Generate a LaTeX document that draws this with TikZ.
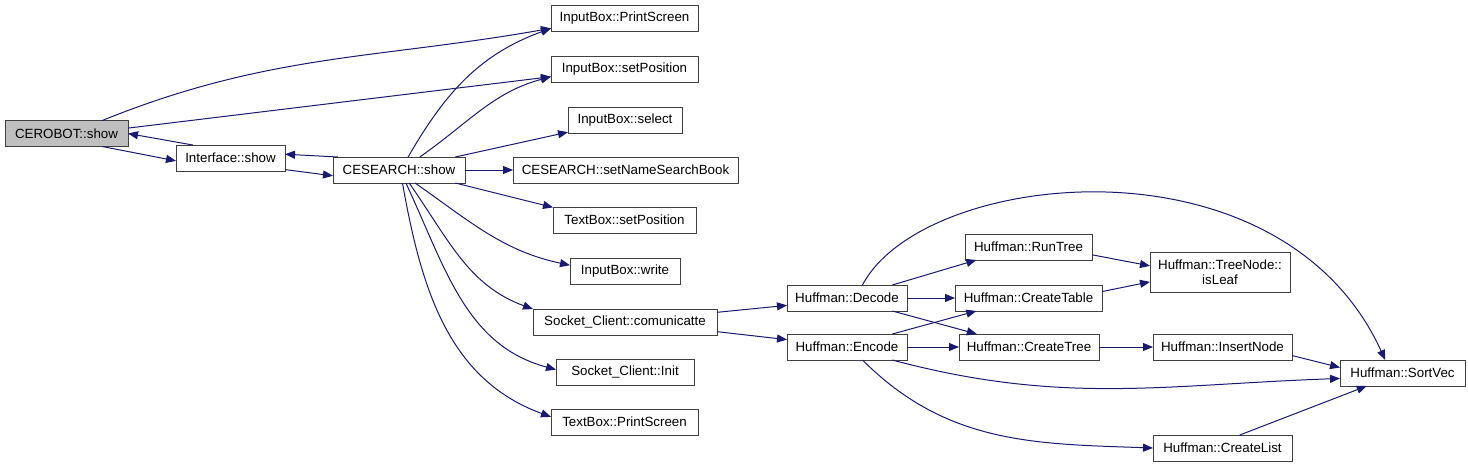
\documentclass[tikz,border=0pt]{standalone}
\usepackage{fontspec}
\setmainfont{Liberation Sans}
\usepackage{tikz}
\usetikzlibrary{arrows.meta}
\definecolor{edgeblue}{HTML}{191970}
\definecolor{boxgray}{HTML}{404040}
\definecolor{rootgray}{HTML}{BFBFBF}
\tikzstyle{fn} = [rectangle, draw=boxgray, line width=0.75pt, fill=white, minimum height=19.5pt, inner sep=0pt, outer sep=0pt, align=center, font=\fontsize{10}{11}\selectfont]
\tikzstyle{call} = [->, >={Triangle[length=7.5pt,width=6pt]}, color=edgeblue, line width=0.75pt]

\begin{document}
\begin{tikzpicture}[x=0.75pt, y=-0.75pt]
\useasboundingbox (0,0) rectangle (1468,468);

% Functions
\node [fn, fill=rootgray, minimum width=92.25pt] (cerobot) at (66.5, 133.5) {CEROBOT::show};
\node [fn, minimum width=81.75pt] (iface) at (230.5, 158) {Interface::show};
\node [fn, minimum width=99pt] (cesearch) at (399, 170) {CESEARCH::show};
\node [fn, minimum width=110.25pt] (ibprint) at (624.5, 18) {InputBox::PrintScreen};
\node [fn, minimum width=110.25pt] (ibpos) at (624.5, 69) {InputBox::setPosition};
\node [fn, minimum width=85.5pt] (ibsel) at (625, 120) {InputBox::select};
\node [fn, minimum width=168.75pt] (setname) at (625.5, 170) {CESEARCH::setNameSearchBook};
\node [fn, minimum width=107.25pt] (tbpos) at (624.5, 220) {TextBox::setPosition};
\node [fn, minimum width=82.5pt] (ibwrite) at (625, 271) {InputBox::write};
\node [fn, minimum width=138pt] (comm) at (625, 322) {Socket\_Client::comunicatte};
\node [fn, minimum width=103.5pt] (init) at (625, 372) {Socket\_Client::Init};
\node [fn, minimum width=110.25pt] (tbprint) at (624.5, 422) {TextBox::PrintScreen};
\node [fn, minimum width=90pt] (dec) at (847, 298) {Huffman::Decode};
\node [fn, minimum width=90pt] (enc) at (847, 347) {Huffman::Encode};
\node [fn, minimum width=95.25pt] (runtree) at (1028.5, 247) {Huffman::RunTree};
\node [fn, minimum width=110.25pt] (ctable) at (1028.5, 298) {Huffman::CreateTable};
\node [fn, minimum width=105pt] (ctree) at (1029, 347) {Huffman::CreateTree};
\node [fn, minimum width=105pt, minimum height=30pt] (leaf) at (1220, 272) {Huffman::TreeNode::\\isLeaf};
\node [fn, minimum width=104.25pt] (insert) at (1222.5, 347) {Huffman::InsertNode};
\node [fn, minimum width=93.75pt] (sortvec) at (1402.5, 373) {Huffman::SortVec};
\node [fn, minimum width=104.25pt] (clist) at (1222.5, 448) {Huffman::CreateList};

% Calls
\draw [call] (cerobot.20) to[out=22, in=190] (ibprint.188);
\draw [call] (cerobot.5) -- (ibpos.186);
\draw [call] (cerobot.-20) -- (iface.183);
\draw [call] (iface.161) -- (cerobot.east);
\draw [call] (iface.-12) -- (cesearch.185);
\draw [call] (cesearch.168) -- (iface.4);
\draw [call] (cesearch.55) to[out=60, in=200] (ibprint.188);
\draw [call] (cesearch.32) to[out=35, in=195] (ibpos.186);
\draw [call] (cesearch.13) -- (ibsel.192);
\draw [call] (cesearch.east) -- (setname.west);
\draw [call] (cesearch.-13) -- (tbpos.170);
\draw [call] (cesearch.-39) to[out=-35, in=168] (ibwrite.174);
\draw [call] (cesearch.-52) to[out=-55, in=160] (comm.172);
\draw [call] (cesearch.-62) to[out=-65, in=165] (init.178);
\draw [call] (cesearch.-75) to[out=-80, in=160] (tbprint.176);
\draw [call] (comm.6) -- (dec.187);
\draw [call] (comm.-6) -- (enc.173);
\draw [call] (dec.16) -- (runtree.194);
\draw [call] (dec.east) -- (ctable.west);
\draw [call] (dec.-16) -- (ctree.166);
\draw [call] (dec.40) .. controls +(60,-115) and +(-105,-230) .. (sortvec.143);
\draw [call] (enc.16) -- (ctable.194);
\draw [call] (enc.east) -- (ctree.west);
\draw [call] (enc.-16) to[out=-15, in=182] (sortvec.185);
\draw [call] (enc.-40) to[out=-45, in=178] (clist.west);
\draw [call] (clist.37) -- (sortvec.200);
\draw [call] (runtree.-7) -- (leaf.175);
\draw [call] (ctable.5) -- (leaf.188);
\draw [call] (ctree.east) -- (insert.west);
\draw [call] (insert.-7) -- (sortvec.175);

\end{tikzpicture}
\end{document}
